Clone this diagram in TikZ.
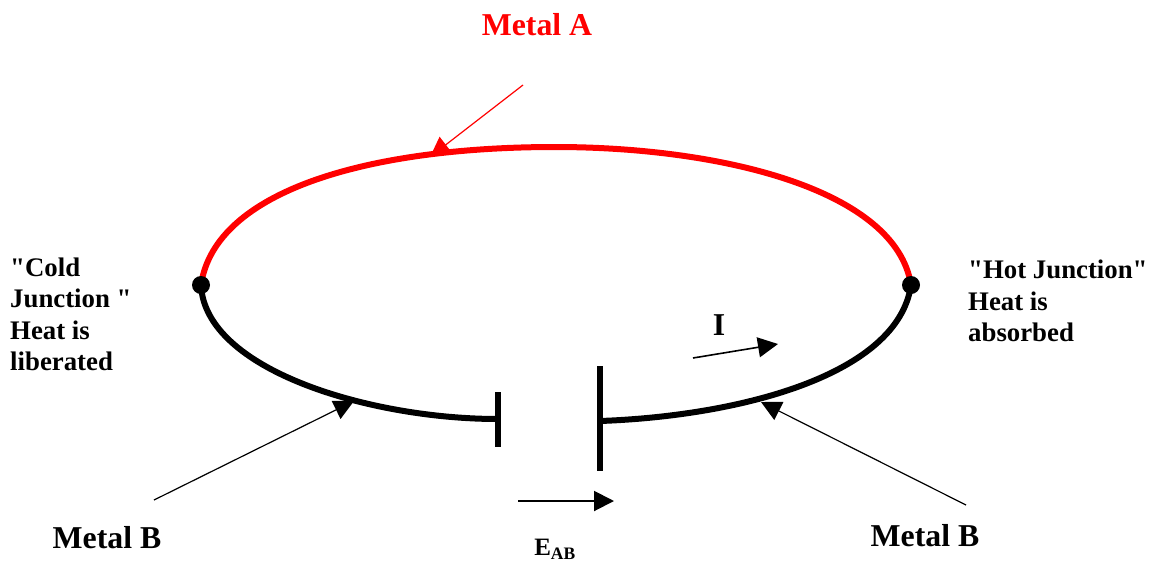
\documentclass[tikz,border=0pt]{standalone}
\usepackage{fontspec}
\setmainfont{Liberation Serif}[Ligatures=TeXOff]
\usetikzlibrary{arrows.meta}
\tikzset{
  px/.style={x=1pt,y=-1pt},
  wire/.style={line width=6pt},
  lead/.style={line width=1.2pt,-{Triangle[length=20pt,width=20pt]}},
  lbl/.style={font=\bfseries\fontsize{31.8}{34}\selectfont,inner sep=0pt},
  small/.style={font=\bfseries\fontsize{26.8}{31.4}\selectfont,inner sep=0pt,align=left},
  dot/.style={circle,fill=black,inner sep=0pt,minimum size=18pt}
}
\begin{document}
\begin{tikzpicture}[px]
\useasboundingbox (0,0) rectangle (1153,563);
\coordinate (L) at (201,285);
\coordinate (R) at (911,285);
\draw[wire,red] (L) .. controls (215,190) and (370,147) .. (555,147) .. controls (722,147) and (896,190) .. (R);
\draw[wire] (L) .. controls (205,370) and (370,419) .. (498,419);
\draw[wire] (R) .. controls (898,375) and (740,416) .. (600,421);
\draw[line width=6pt] (498,392) -- (498,447);
\draw[line width=6pt] (600,366) -- (600,471);
\node[dot] (dl) at (L) {};
\node[dot] (dr) at (R) {};
\node[lbl,text=red,anchor=center] (ma) at (537,25) {Metal A};
\node[lbl,anchor=center] (mb1) at (107,538) {Metal B};
\node[lbl,anchor=center] (mb2) at (925,536) {Metal B};
\node[lbl,anchor=center] (i) at (719,325) {I};
\node[small,anchor=north west] (cold) at (10,257.5) {"Cold\\Junction "\\Heat is\\liberated};
\node[small,anchor=north west] (hot) at (968,260) {"Hot Junction"\\Heat is\\absorbed};
\node[font=\bfseries\fontsize{25}{27}\selectfont,inner sep=0pt] (eab) at (555,549) {E\textsubscript{AB}};
\coordinate (a1s) at (523,85);
\coordinate (a1e) at (430,157);
\draw[lead,red] (a1s) -- (a1e);
\coordinate (a2s) at (154,500);
\coordinate (a2e) at (354,401);
\draw[lead] (a2s) -- (a2e);
\coordinate (a3s) at (966,505);
\coordinate (a3e) at (761,402);
\draw[lead] (a3s) -- (a3e);
\coordinate (a4s) at (693,358);
\coordinate (a4e) at (778,344);
\draw[lead,line width=1.6pt] (a4s) -- (a4e);
\coordinate (a5s) at (518,501);
\coordinate (a5e) at (614,501);
\draw[lead,line width=2pt] (a5s) -- (a5e);
\end{tikzpicture}
\end{document}
